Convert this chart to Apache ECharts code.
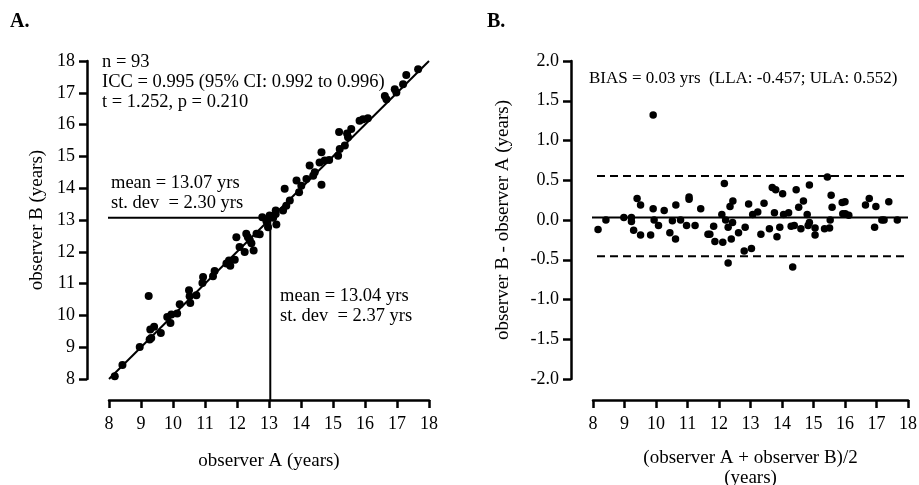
<!DOCTYPE html>
<html>
<head>
<meta charset="utf-8">
<script src="https://cdn.jsdelivr.net/npm/echarts@6/dist/echarts.min.js"></script>
<style>html,body{margin:0;padding:0;background:#fff}#c{width:919px;height:485px}</style>
</head>
<body>
<div id="c"></div>
<script>
// ---- Panel A data: observer A vs observer B (years)
const obsA = [8.18,8.42,8.96,9.24,9.27,9.32,9.29,9.41,9.62,9.82,9.92,9.95,10.13,10.21,10.50,10.52,10.54,10.73,
  10.92,10.94,11.25,11.30,11.67,11.75,11.79,11.93,11.98,12.08,12.24,12.29,12.34,12.40,12.45,12.52,12.61,12.71,12.79,12.92,12.97,13.02,13.21,13.23,
  13.13,13.21,13.44,13.54,13.49,13.65,13.86,13.94,14.01,14.17,14.27,14.38,14.43,14.58,14.64,14.64,14.74,14.88,15.16,15.21,15.19,15.44,15.47,15.37,15.57,
  15.83,15.94,16.09,16.62,16.67,16.93,16.98,17.19,17.29,17.66];
const obsB = [8.09,8.44,9.01,10.61,9.24,9.29,9.56,9.64,9.45,9.95,9.76,10.03,10.06,10.35,10.79,10.60,10.39,10.63,
  11.02,11.21,11.23,11.40,11.63,11.73,11.56,11.75,12.46,12.15,11.99,12.57,12.46,12.36,12.27,12.04,12.57,12.55,13.09,12.96,12.77,13.14,13.19,12.86,
  13.07,13.30,13.30,13.45,13.98,13.61,14.24,13.87,14.08,14.29,14.71,14.39,14.50,14.81,14.11,15.13,14.87,14.89,15.02,15.23,15.77,15.72,15.60,15.34,15.86,
  16.12,16.17,16.20,16.90,16.80,17.11,17.01,17.27,17.56,17.74];
const fitLineX = [8.0, 18.0];
const fitLineY = [8.0, 18.0];
const meanA = 13.04;   // observer A mean (vertical line)
const meanB = 13.07;   // observer B mean (horizontal line)

// ---- Panel B data: Bland-Altman
const baMean = [9.91,8.16,8.41,8.98,9.22,9.22,9.29,9.40,9.51,9.51,9.83,9.91,9.94,10.08,10.26,10.44,10.52,10.62,10.63,10.78,10.97,11.05,11.05,11.24,11.42,
  11.65,11.71,11.83,11.87,12.09,12.12,12.17,12.21,12.29,12.29,12.35,12.39,12.43,12.44,12.62,12.80,12.83,12.94,13.03,13.07,13.23,13.33,13.43,13.60,
  13.69,13.80,13.76,13.84,13.93,14.02,14.05,14.21,14.29,14.34,14.39,14.45,14.53,14.60,14.68,14.80,14.83,14.87,14.87,15.05,15.05,15.35,15.44,15.51,15.53,
  15.56,15.59,15.91,16.00,15.93,16.01,16.12,16.65,16.77,16.94,16.98,17.17,17.24,17.39,17.66];
const baDiff = [1.32,-0.12,0.00,0.03,0.03,-0.02,-0.13,0.27,0.19,-0.19,-0.19,0.14,0.00,-0.07,0.12,-0.16,-0.01,-0.24,0.19,0.00,-0.07,0.29,0.26,-0.07,0.14,
  -0.18,-0.18,-0.08,-0.27,0.07,-0.28,0.46,0.00,-0.54,-0.09,0.17,-0.24,-0.03,0.24,-0.16,-0.39,-0.09,0.20,-0.36,0.07,0.10,-0.18,0.21,-0.11,
  0.41,0.38,0.09,-0.21,-0.09,0.33,0.07,0.09,-0.08,-0.59,-0.07,0.38,0.16,-0.11,0.24,0.07,-0.07,0.44,-0.03,-0.10,-0.19,-0.11,0.54,-0.10,0.00,
  0.31,0.16,0.22,0.23,0.08,0.08,0.06,0.19,0.27,-0.09,0.17,0.00,0.00,0.23,0.00];
const bias = 0.03, lla = -0.457, ula = 0.552;

const xTicks = [8,18,1];
const yTicksA = [8,18,1];
const yTicksB = [-2,2,0.5];

// ---- layout
const FONT = "'Liberation Serif', 'Times New Roman', serif";
const gA = {left:109, top:61, width:320, height:318, outerBoundsMode:'none', containLabel:false};
const gB = {left:593, top:61, width:315, height:318, outerBoundsMode:'none', containLabel:false};
const offY = 22, offX = 21;

function xAx(gi, name, nameGap) {
  return {type:'value', gridIndex:gi, min:xTicks[0], max:xTicks[1], interval:xTicks[2], offset:offX,
    axisLine:{show:true, onZero:false, lineStyle:{color:'#000', width:2.5}},
    axisTick:{show:true, length:8, lineStyle:{color:'#000', width:2.5}},
    axisLabel:{color:'#000', fontSize:18, fontFamily:FONT, margin:15},
    splitLine:{show:false},
    name:name, nameLocation:'middle', nameGap:nameGap,
    nameTextStyle:{color:'#000', fontSize:19, fontFamily:FONT, lineHeight:20}};
}
function yAx(gi, t, name, nameGap, fmt) {
  return {type:'value', gridIndex:gi, min:t[0], max:t[1], interval:t[2], offset:offY,
    axisLine:{show:true, onZero:false, lineStyle:{color:'#000', width:2.5}},
    axisTick:{show:true, length:8, lineStyle:{color:'#000', width:2.5}},
    axisLabel:{color:'#000', fontSize:18, fontFamily:FONT, margin:12, formatter:fmt},
    splitLine:{show:false},
    name:name, nameLocation:'middle', nameGap:nameGap,
    nameTextStyle:{color:'#000', fontSize:19, fontFamily:FONT}};
}

const xStartA = xTicks[0] - offY / (gA.width / (xTicks[1]-xTicks[0]));
const xStartB = xTicks[0] - offY / (gB.width / (xTicks[1]-xTicks[0]));
const yBottomA = yTicksA[0] - offX / (gA.height / (yTicksA[1]-yTicksA[0]));

const scatA = obsA.map((v,i)=>[v, obsB[i]]);
const scatB = baMean.map((v,i)=>[v, baDiff[i]]);

function txt(x, y, s, size) {
  return {type:'text', x:x, y:y, style:{text:s, font: (size||18.5)+'px ' + FONT, fill:'#000',
    textAlign:'left', textVerticalAlign:'middle', align:'left', verticalAlign:'middle'}};
}

const chart = echarts.init(document.getElementById('c'), null, {renderer:'canvas'});
chart.setOption({
  animation:false,
  backgroundColor:'#fff',
  grid:[gA, gB],
  xAxis:[xAx(0,'observer A (years)',51), xAx(1,'(observer A + observer B)/2\n(years)',48)],
  yAxis:[yAx(0, yTicksA, 'observer B (years)', 40, v=>String(v)),
         yAx(1, yTicksB, 'observer B - observer A (years)', 58, v=>v.toFixed(1))],
  series:[
    {type:'line', xAxisIndex:0, yAxisIndex:0, data:[[fitLineX[0],fitLineY[0]],[fitLineX[1],fitLineY[1]]],
      symbol:'none', lineStyle:{color:'#000', width:2}, clip:false, silent:true},
    {type:'line', xAxisIndex:0, yAxisIndex:0, data:[[xStartA, meanB],[meanA, meanB]],
      symbol:'none', lineStyle:{color:'#000', width:2}, clip:false, silent:true},
    {type:'line', xAxisIndex:0, yAxisIndex:0, data:[[meanA, meanB],[meanA, yBottomA]],
      symbol:'none', lineStyle:{color:'#000', width:2}, clip:false, silent:true},
    {type:'scatter', xAxisIndex:0, yAxisIndex:0, data:scatA, symbol:'circle', symbolSize:8,
      itemStyle:{color:'#000', opacity:1}},
    {type:'line', xAxisIndex:1, yAxisIndex:1, data:[[xStartB, bias],[xTicks[1], bias]],
      symbol:'none', lineStyle:{color:'#000', width:2}, clip:false, silent:true},
    {type:'line', xAxisIndex:1, yAxisIndex:1, data:[[xStartB, ula],[xTicks[1], ula]],
      symbol:'none', lineStyle:{color:'#000', width:2, type:[8,5]}, clip:false, silent:true},
    {type:'line', xAxisIndex:1, yAxisIndex:1, data:[[xStartB, lla],[xTicks[1], lla]],
      symbol:'none', lineStyle:{color:'#000', width:2, type:[8,5]}, clip:false, silent:true},
    {type:'scatter', xAxisIndex:1, yAxisIndex:1, data:scatB, symbol:'circle', symbolSize:7.5,
      itemStyle:{color:'#000', opacity:1}}
  ],
  graphic:[
    {type:'text', x:10, y:22, style:{text:'A.', font:'bold 20px '+FONT, fill:'#000', textVerticalAlign:'middle', verticalAlign:'middle'}},
    {type:'text', x:487, y:22, style:{text:'B.', font:'bold 20px '+FONT, fill:'#000', textVerticalAlign:'middle', verticalAlign:'middle'}},
    txt(102, 62, 'n = 93'),
    txt(102, 82, 'ICC = 0.995 (95% CI: 0.992 to 0.996)'),
    txt(102, 102, 't = 1.252, p = 0.210'),
    txt(111, 183, 'mean = 13.07 yrs'),
    txt(111, 203, 'st. dev  = 2.30 yrs'),
    txt(280, 296, 'mean = 13.04 yrs'),
    txt(280, 316, 'st. dev  = 2.37 yrs'),
    txt(589, 79, 'BIAS = 0.03 yrs  (LLA: -0.457; ULA: 0.552)', 17)
  ]
});
</script>
</body>
</html>
